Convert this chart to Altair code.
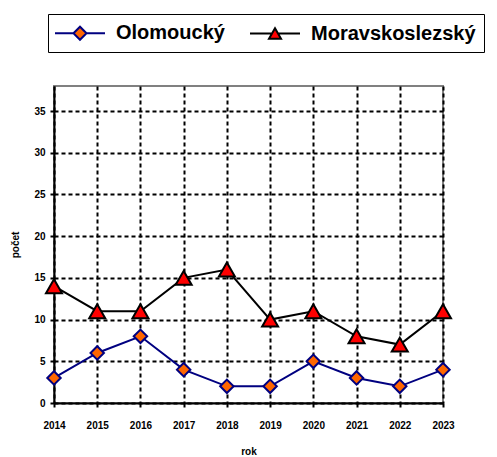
import altair as alt
import pandas as pd

years = [2014, 2015, 2016, 2017, 2018, 2019, 2020, 2021, 2022, 2023]
olomoucky = [3, 6, 8, 4, 2, 2, 5, 3, 2, 4]
moravskoslezsky = [14, 11, 11, 15, 16, 10, 11, 8, 7, 11]
series_names = ["Olomoucký", "Moravskoslezský"]
y_ticks = [0, 5, 10, 15, 20, 25, 30, 35]

df = pd.DataFrame(
    {"rok": years * 2,
     "pocet": olomoucky + moravskoslezsky,
     "serie": [series_names[0]] * len(years) + [series_names[1]] * len(years)}
)

FONT = "Liberation Sans"

x_enc = alt.X("rok:O", scale=alt.Scale(type="point", padding=0),
              axis=alt.Axis(title="rok", labelAngle=0, grid=True))
y_enc = alt.Y("pocet:Q", scale=alt.Scale(domain=[0, 38], nice=False),
              axis=alt.Axis(title="počet", values=y_ticks))

base = alt.Chart(df).encode(x=x_enc, y=y_enc)

line_o = base.transform_filter(alt.datum.serie == series_names[0]).mark_line(
    color="#000080", strokeWidth=2)
pts_o = base.transform_filter(alt.datum.serie == series_names[0]).mark_point(
    shape="diamond", size=180, filled=True, fill="#FF6600", stroke="#000080",
    strokeWidth=2, opacity=1)
line_m = base.transform_filter(alt.datum.serie == series_names[1]).mark_line(
    color="#000000", strokeWidth=2)
pts_m = base.transform_filter(alt.datum.serie == series_names[1]).mark_point(
    shape="triangle-up", size=256, filled=True, fill="#FF0000", stroke="#000000",
    strokeWidth=2, opacity=1)

path_o = "M-2.5,0H-0.65M0.65,0H2.5M-0.65,0L0,-0.65L0.65,0L0,0.65Z"
path_m = "M-2.5,0H-0.3M0.3,0H2.5M0,-0.52L0.6,0.52L-0.6,0.52Z"

leg = alt.Legend(
    title=None, orient="none", legendX=-6, legendY=-72, direction="horizontal",
    labelFont=FONT, labelFontSize=20, labelFontWeight="bold", labelColor="black",
    labelLimit=0,
    symbolSize=400, symbolStrokeWidth=2, symbolOffset=13, labelOffset=25,
    columnPadding=21, padding=8, strokeColor="black",
    symbolOpacity=1,
)

legend_layer = alt.Chart(df).transform_filter("false").mark_point(
    filled=True, opacity=1, strokeWidth=2).encode(
    x=x_enc, y=y_enc,
    shape=alt.Shape("serie:N", scale=alt.Scale(domain=series_names, range=[path_o, path_m]), legend=leg),
    fill=alt.Fill("serie:N", scale=alt.Scale(domain=series_names, range=["#FF6600", "#FF0000"]), legend=leg),
    stroke=alt.Stroke("serie:N", scale=alt.Scale(domain=series_names, range=["#000080", "#000000"]), legend=leg),
)

chart = alt.layer(line_o, line_m, pts_o, pts_m, legend_layer).properties(
    width=389, height=317,
    autosize=alt.AutoSizeParams(type="none"),
    padding={"left": 46, "top": 78, "right": 46, "bottom": 54},
).configure_view(
    stroke="#808080", strokeWidth=2
).configure_axis(
    labelFont=FONT, labelFontSize=10, labelFontWeight="bold", labelColor="black",
    titleFont=FONT, titleFontSize=10, titleFontWeight="bold", titleColor="black",
    domainColor="black", domainWidth=2, tickColor="black", tickWidth=2, tickSize=4,
    gridColor="black", gridWidth=2, gridDash=[4, 3], gridOpacity=1,
).configure_axisY(
    labelPadding=5, titlePadding=13,
).configure_axisX(
    labelPadding=13, titlePadding=16,
)

chart.save("out.html", embed_options={"renderer": "svg", "actions": False})
